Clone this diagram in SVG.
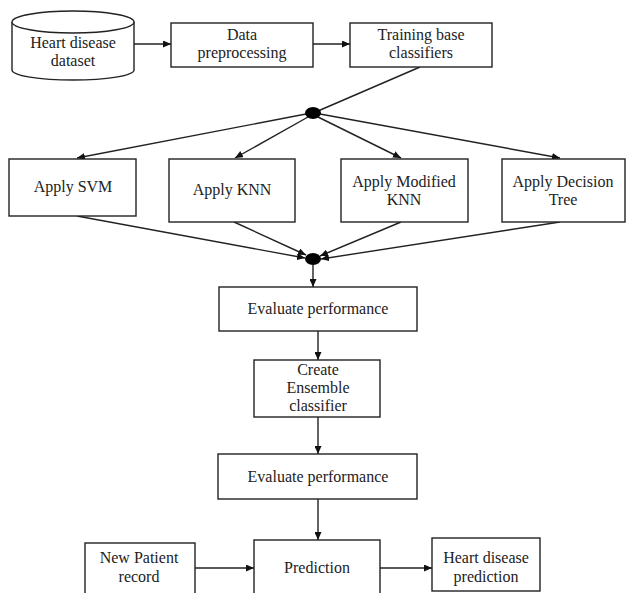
<svg xmlns="http://www.w3.org/2000/svg" width="626" height="593" viewBox="0 0 626 593">
<defs>
<marker id="ah" markerUnits="userSpaceOnUse" markerWidth="9" markerHeight="7" refX="8" refY="3.5" orient="auto">
<path d="M0,0 L8,3.5 L0,7 z" fill="#111"/>
</marker>
<style>
.box{fill:#fff;stroke:#222;stroke-width:1.4}
.t{font-family:"Liberation Serif","Times New Roman",serif;font-size:16px;fill:#222;text-anchor:middle}
.c{stroke:#222;stroke-width:1.4;fill:none}
.dot{fill:#000}
</style>
</defs>
<rect width="626" height="593" fill="#fff"/>
<g id="connectors">
<line class="c" x1="134" y1="44" x2="171" y2="44" marker-end="url(#ah)"/>
<line class="c" x1="313" y1="44" x2="350" y2="44" marker-end="url(#ah)"/>
<line class="c" x1="420" y1="67" x2="318" y2="111"/>
<line class="c" x1="306" y1="114" x2="77" y2="158" marker-end="url(#ah)"/>
<line class="c" x1="308" y1="117" x2="235" y2="158" marker-end="url(#ah)"/>
<line class="c" x1="318" y1="117" x2="401" y2="158" marker-end="url(#ah)"/>
<line class="c" x1="320" y1="114" x2="560" y2="158" marker-end="url(#ah)"/>
<line class="c" x1="77" y1="216" x2="305" y2="258" marker-end="url(#ah)"/>
<line class="c" x1="234" y1="222" x2="306" y2="255" marker-end="url(#ah)"/>
<line class="c" x1="401" y1="222" x2="320" y2="256" marker-end="url(#ah)"/>
<line class="c" x1="560" y1="222" x2="321" y2="259" marker-end="url(#ah)"/>
<line class="c" x1="313" y1="265" x2="313" y2="287" marker-end="url(#ah)"/>
<line class="c" x1="318" y1="331" x2="318" y2="360" marker-end="url(#ah)"/>
<line class="c" x1="318" y1="417" x2="318" y2="454" marker-end="url(#ah)"/>
<line class="c" x1="318" y1="499" x2="318" y2="540" marker-end="url(#ah)"/>
<line class="c" x1="195" y1="568" x2="254" y2="568" marker-end="url(#ah)"/>
<line class="c" x1="380" y1="568" x2="432" y2="568" marker-end="url(#ah)"/>
</g>
<g id="dataset">
<path class="box" d="M12,22 L12,70 A61,10 0 0 0 134,70 L134,22"/>
<ellipse class="box" cx="73" cy="22" rx="61" ry="11"/>
<text class="t" x="73" y="48">Heart disease</text>
<text class="t" x="73" y="66">dataset</text>
</g>
<g id="preprocessing">
<rect class="box" x="171" y="23" width="142" height="44"/>
<text class="t" x="242" y="40">Data</text>
<text class="t" x="242" y="58">preprocessing</text>
</g>
<g id="training">
<rect class="box" x="350" y="23" width="142" height="44"/>
<text class="t" x="421" y="40">Training base</text>
<text class="t" x="421" y="58">classifiers</text>
</g>
<g id="fork">
<ellipse class="dot" cx="313" cy="113" rx="8" ry="6"/>
</g>
<g id="svm">
<rect class="box" x="9" y="159" width="127" height="57"/>
<text class="t" x="73" y="192">Apply SVM</text>
</g>
<g id="knn">
<rect class="box" x="169" y="159" width="126" height="63"/>
<text class="t" x="232" y="195">Apply KNN</text>
</g>
<g id="mknn">
<rect class="box" x="341" y="159" width="127" height="63"/>
<text class="t" x="404" y="187">Apply Modified</text>
<text class="t" x="404" y="205">KNN</text>
</g>
<g id="dtree">
<rect class="box" x="502" y="159" width="123" height="63"/>
<text class="t" x="563" y="187">Apply Decision</text>
<text class="t" x="563" y="205">Tree</text>
</g>
<g id="join">
<ellipse class="dot" cx="313" cy="259" rx="8" ry="6"/>
</g>
<g id="eval1">
<rect class="box" x="219" y="287" width="198" height="44"/>
<text class="t" x="318" y="314">Evaluate performance</text>
</g>
<g id="ensemble">
<rect class="box" x="254" y="360" width="126" height="57"/>
<text class="t" x="318" y="375">Create</text>
<text class="t" x="318" y="393">Ensemble</text>
<text class="t" x="318" y="411">classifier</text>
</g>
<g id="eval2">
<rect class="box" x="218" y="454" width="199" height="45"/>
<text class="t" x="318" y="482">Evaluate performance</text>
</g>
<g id="patient">
<rect class="box" x="85" y="543" width="110" height="60"/>
<text class="t" x="139" y="563">New Patient</text>
<text class="t" x="139" y="582">record</text>
</g>
<g id="prediction">
<rect class="box" x="254" y="540" width="126" height="60"/>
<text class="t" x="317" y="573">Prediction</text>
</g>
<g id="result">
<rect class="box" x="432" y="538" width="108" height="53"/>
<text class="t" x="486" y="563">Heart disease</text>
<text class="t" x="486" y="582">prediction</text>
</g>
</svg>
